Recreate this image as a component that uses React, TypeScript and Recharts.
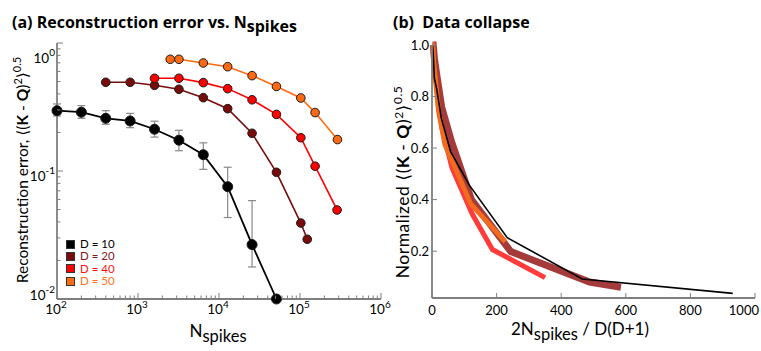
import React from 'react';
import { LineChart, Line, XAxis, YAxis, ErrorBar, Legend } from 'recharts';

const FONT = 'Lato, "Open Sans", "DejaVu Sans", sans-serif';
const TITLE_FONT = '"Open Sans", Lato, sans-serif';
const AXIS = '#7f7f7f';

// (a) reconstruction error vs N_spikes, one list per D
const nD10 = [100, 200, 400, 800, 1600, 3200, 6400, 12800, 25600, 51200];
const errD10 = [0.296, 0.288, 0.258, 0.246, 0.212, 0.174, 0.134, 0.0754, 0.0266, 0.01];
const errD10Lo = [0.269, 0.258, 0.232, 0.218, 0.184, 0.144, 0.103, 0.0433, 0.0178, 0.01];
const errD10Hi = [0.334, 0.324, 0.296, 0.282, 0.245, 0.208, 0.166, 0.107, 0.0587, 0.01];

const nD20 = [400, 800, 1600, 3200, 6400, 12800, 25600, 51200, 102400, 122880];
const errD20 = [0.493, 0.493, 0.467, 0.435, 0.374, 0.307, 0.197, 0.0977, 0.0392, 0.0293];

const nD40 = [1600, 3200, 6400, 12800, 25600, 51200, 102400, 153600, 287000];
const errD40 = [0.53, 0.53, 0.49, 0.44, 0.36, 0.277, 0.182, 0.109, 0.0496];

const nD50 = [2500, 3200, 6400, 12800, 25600, 51200, 102400, 153600, 290000];
const errD50 = [0.746, 0.746, 0.698, 0.653, 0.556, 0.458, 0.372, 0.286, 0.176];

// (b) data collapse: 2N/D(D+1) vs normalized error
const cxD10 = [1.8, 3.6, 7.3, 14.5, 29, 58, 116, 233, 465, 931];
const cyD10 = [1.0, 0.97, 0.87, 0.83, 0.715, 0.585, 0.455, 0.252, 0.092, 0.036];
const cxD20 = [1.9, 3.8, 7.6, 15, 30, 61, 122, 244, 488, 585];
const cyD20 = [1.0, 1.0, 0.947, 0.882, 0.759, 0.623, 0.4, 0.198, 0.08, 0.06];
const cxD40 = [2, 3.9, 7.8, 15.6, 31, 62, 125, 187, 350];
const cyD40 = [1.0, 1.0, 0.925, 0.83, 0.679, 0.523, 0.343, 0.206, 0.097];
const cxD50 = [2, 2.5, 5, 10, 20, 40, 80, 120, 227];
const cyD50 = [1.0, 1.0, 0.936, 0.875, 0.745, 0.614, 0.499, 0.383, 0.236];

const xTicksA = [
  100, 200, 300, 400, 500, 600, 700, 800, 900,
  1000, 2000, 3000, 4000, 5000, 6000, 7000, 8000, 9000,
  10000, 20000, 30000, 40000, 50000, 60000, 70000, 80000, 90000,
  100000, 200000, 300000, 400000, 500000, 600000, 700000, 800000, 900000, 1000000,
];
const yTicksA = [
  0.01, 0.02, 0.03, 0.04, 0.05, 0.06, 0.07, 0.08, 0.09,
  0.1, 0.2, 0.3, 0.4, 0.5, 0.6, 0.7, 0.8, 0.9, 1,
];
const xTicksB = [0, 200, 400, 600, 800, 1000];
const yTicksB = [0.2, 0.4, 0.6, 0.8, 1.0];

const series = [
  { name: 'D = 10', color: '#000000', text: '#000000' },
  { name: 'D = 20', color: '#7a0b0b', text: '#8a1616' },
  { name: 'D = 40', color: '#ff0000', text: '#ff1010' },
  { name: 'D = 50', color: '#ff6a12', text: '#ff7020' },
];

const dataD10 = nD10.map((n, i) => ({ n, err: errD10[i], bar: [errD10[i] - errD10Lo[i], errD10Hi[i] - errD10[i]] }));
const dataD20 = nD20.map((n, i) => ({ n, err: errD20[i] }));
const dataD40 = nD40.map((n, i) => ({ n, err: errD40[i] }));
const dataD50 = nD50.map((n, i) => ({ n, err: errD50[i] }));

const colD10 = cxD10.map((x, i) => ({ x, y: cyD10[i] }));
const colD20 = cxD20.map((x, i) => ({ x, y: cyD20[i] }));
const colD40 = cxD40.map((x, i) => ({ x, y: cyD40[i] }));
const colD50 = cxD50.map((x, i) => ({ x, y: cyD50[i] }));

const isDecade = (v: number) => Math.abs(Math.log10(v) - Math.round(Math.log10(v))) < 1e-6;

const LogXTick = ({ x, y, payload }: any) => {
  const v = payload.value;
  const major = isDecade(v);
  return (
    <g>
      <line x1={x} x2={x} y1={y} y2={y - (major ? 6 : 3.5)} stroke={AXIS} strokeWidth={1} />
      {major && (
        <text x={x - 1} y={y + 15} textAnchor="middle" fontSize={13.5} fill="#000" fontFamily={FONT}>
          10<tspan dy={-6} fontSize={10}>{Math.round(Math.log10(v))}</tspan>
        </text>
      )}
    </g>
  );
};

// the decade labels sit a little off their ticks in the original
const yLabelShift: Record<number, number> = { 0: 20, [-1]: 10, [-2]: 1 };

const LogYTick = ({ x, y, payload }: any) => {
  const v = payload.value;
  const major = isDecade(v);
  const e = Math.round(Math.log10(v));
  return (
    <g>
      <line x1={x} x2={x + (major ? 6 : 3.5)} y1={y} y2={y} stroke={AXIS} strokeWidth={1} />
      {major && (
        <text x={x - 2} y={y + yLabelShift[e]} textAnchor="end" fontSize={13.5} fill="#000" fontFamily={FONT}>
          10<tspan dy={-7} fontSize={10}>{e}</tspan>
        </text>
      )}
    </g>
  );
};

const LinXTick = ({ x, y, payload }: any) => {
  const last = payload.value === 1000;
  return (
    <g>
      <line x1={x} x2={x} y1={y} y2={y - 5} stroke={AXIS} strokeWidth={1} />
      <text x={last ? x + 4 : x} y={y + 17} textAnchor={last ? 'end' : 'middle'} fontSize={13} fill="#000" fontFamily={FONT}>
        {payload.value}
      </text>
    </g>
  );
};

const LinYTick = ({ x, y, payload }: any) => (
  <g>
    <line x1={x} x2={x + 5} y1={y} y2={y} stroke={AXIS} strokeWidth={1} />
    <text x={x - 3} y={y + 4.5} textAnchor="end" fontSize={13} fill="#000" fontFamily={FONT}>
      {payload.value.toFixed(1)}
    </text>
  </g>
);

const XLabelA = () => (
  <text x={218} y={337} textAnchor="middle" fontSize={17} fill="#000" fontFamily={FONT}>
    N<tspan dy={5} fontSize={16.5}>spikes</tspan>
  </text>
);

const YLabelA = () => (
  <text transform="translate(28,170) rotate(-90)" textAnchor="middle" fontSize={15.5} fill="#000" fontFamily={FONT}>
    Reconstruction error, ⟨(<tspan fontWeight="bold">K</tspan> - <tspan fontWeight="bold">Q</tspan>)
    <tspan dy={-6} fontSize={11}>2</tspan>
    <tspan dy={6}>⟩</tspan>
    <tspan dy={-7} fontSize={11}>0.5</tspan>
  </text>
);

const XLabelB = () => (
  <text x={200} y={335} textAnchor="middle" fontSize={17} fill="#000" fontFamily={FONT}>
    2N<tspan dy={5} fontSize={16.5}>spikes</tspan>
    <tspan dy={-5}> / D(D+1)</tspan>
  </text>
);

const YLabelB = () => (
  <text transform="translate(29,182) rotate(-90)" textAnchor="middle" fontSize={17.5} letterSpacing={0.5} fill="#000" fontFamily={FONT}>
    Normalized ⟨(<tspan fontWeight="bold">K</tspan> - <tspan fontWeight="bold">Q</tspan>)
    <tspan dy={-6} fontSize={12}>2</tspan>
    <tspan dy={6}>⟩</tspan>
    <tspan dy={-7} fontSize={12}>0.5</tspan>
  </text>
);

const LegendBox = () => (
  <div style={{ fontFamily: FONT, fontSize: 11.5 }}>
    {series.map((s) => (
      <div key={s.name} style={{ display: 'flex', alignItems: 'center', height: 12.3 }}>
        <span style={{ width: 7, height: 7, background: s.color, border: '1px solid #333', marginRight: 5 }} />
        <span style={{ color: s.text, lineHeight: '12px' }}>{s.name}</span>
      </div>
    ))}
  </div>
);

const dotStyle = (c: string, r: number) => ({ r, fill: c, stroke: '#1a1a1a', strokeWidth: 1 });

export default function App() {
  return (
    <div style={{ position: 'absolute', left: 0, top: 0, width: 761, height: 351, background: '#fff', fontFamily: FONT }}>
      <div style={{ position: 'absolute', left: 0, top: 0 }}>
        <LineChart width={400} height={351} margin={{ top: 43, right: 19, bottom: 0, left: 0 }}>
          <XAxis
            dataKey="n"
            type="number"
            scale="log"
            domain={[100, 1000000]}
            ticks={xTicksA}
            interval={0}
            tick={<LogXTick />}
            tickSize={0}
            tickMargin={0}
            height={52}
            axisLine={{ stroke: AXIS, strokeWidth: 1.8 }}
            label={<XLabelA />}
          />
          <YAxis
            dataKey="err"
            type="number"
            scale="log"
            domain={[0.01, 1]}
            ticks={yTicksA}
            interval={0}
            tick={<LogYTick />}
            tickSize={0}
            tickMargin={0}
            width={57}
            axisLine={{ stroke: AXIS, strokeWidth: 1.8 }}
            label={<YLabelA />}
          />
          <Legend
            layout="vertical"
            align="center"
            verticalAlign="middle"
            content={<LegendBox />}
            wrapperStyle={{ left: 66, top: 238, width: 60 }}
          />
          <Line data={dataD10} dataKey="err" name={series[0].name} stroke={series[0].color} strokeWidth={1.8} dot={dotStyle('#000', 5)} isAnimationActive={false}>
            <ErrorBar dataKey="bar" direction="y" width={4} stroke="#888" strokeWidth={1.2} />
          </Line>
          <Line data={dataD20} dataKey="err" name={series[1].name} stroke={series[1].color} strokeWidth={1.6} dot={dotStyle(series[1].color, 4.3)} isAnimationActive={false} />
          <Line data={dataD40} dataKey="err" name={series[2].name} stroke={series[2].color} strokeWidth={1.6} dot={dotStyle(series[2].color, 4.3)} isAnimationActive={false} />
          <Line data={dataD50} dataKey="err" name={series[3].name} stroke={series[3].color} strokeWidth={1.6} dot={dotStyle(series[3].color, 4.3)} isAnimationActive={false} />
        </LineChart>
      </div>

      <div style={{ position: 'absolute', left: 380, top: 0 }}>
        <LineChart width={381} height={351} margin={{ top: 45, right: 6, bottom: 0, left: 0 }}>
          <XAxis
            dataKey="x"
            type="number"
            domain={[0, 1000]}
            ticks={xTicksB}
            interval={0}
            tick={<LinXTick />}
            tickSize={0}
            tickMargin={0}
            height={53}
            axisLine={{ stroke: AXIS, strokeWidth: 1.8 }}
            label={<XLabelB />}
          />
          <YAxis
            dataKey="y"
            type="number"
            domain={[0.018, 1]}
            ticks={yTicksB}
            interval={0}
            tick={<LinYTick />}
            tickSize={0}
            tickMargin={0}
            width={52}
            axisLine={{ stroke: AXIS, strokeWidth: 1.8 }}
            label={<YLabelB />}
          />
          <Line data={colD40} dataKey="y" name={series[2].name} stroke="#ff3b3b" strokeWidth={5} dot={false} isAnimationActive={false} />
          <Line data={colD20} dataKey="y" name={series[1].name} stroke="#a53a3a" strokeWidth={7} dot={false} isAnimationActive={false} />
          <Line data={colD50} dataKey="y" name={series[3].name} stroke="#f26a1e" strokeWidth={5} dot={false} isAnimationActive={false} />
          <Line data={colD10} dataKey="y" name={series[0].name} stroke="#000" strokeWidth={1.6} dot={false} isAnimationActive={false} />
        </LineChart>
      </div>

      <svg width={761} height={40} style={{ position: 'absolute', left: 0, top: 0, pointerEvents: 'none' }}>
        <text x={12} y={28} fontSize={16} fontWeight="bold" fontFamily={TITLE_FONT} fill="#000">
          (a) Reconstruction error vs. N<tspan dy={4}>spikes</tspan>
        </text>
        <text x={393} y={28} fontSize={16} fontWeight="bold" fontFamily={TITLE_FONT} fill="#000" xmlSpace="preserve">
          (b)  Data collapse
        </text>
      </svg>
    </div>
  );
}
